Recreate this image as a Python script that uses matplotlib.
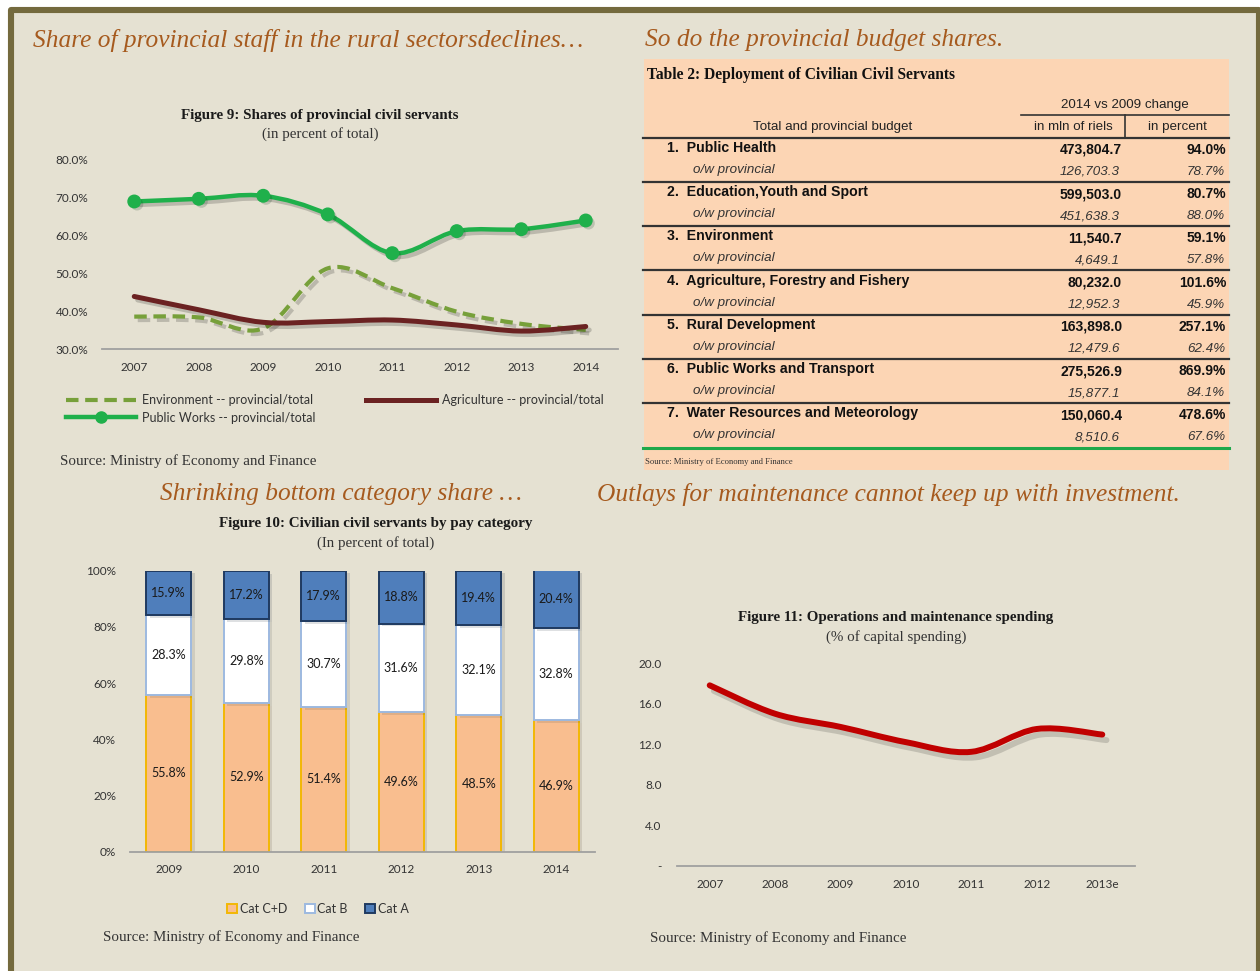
import matplotlib
matplotlib.use("Agg")
import matplotlib.pyplot as plt
import matplotlib.patheffects as pe
from matplotlib.path import Path
from matplotlib.patches import PathPatch, Rectangle, Patch
from matplotlib.lines import Line2D
import numpy as np

# ---- data ----
years9 = ["2007", "2008", "2009", "2010", "2011", "2012", "2013", "2014"]
environment = [38.6, 38.4, 35.5, 51.3, 46.1, 39.9, 36.7, 35.1]
agriculture = [43.9, 40.4, 37.1, 37.3, 37.7, 36.4, 34.8, 36.0]
public_works = [68.9, 69.6, 70.4, 65.5, 55.3, 61.1, 61.6, 63.9]

years10 = ["2009", "2010", "2011", "2012", "2013", "2014"]
cat_cd = [55.8, 52.9, 51.4, 49.6, 48.5, 46.9]
cat_b = [28.3, 29.8, 30.7, 31.6, 32.1, 32.8]
cat_a = [15.9, 17.2, 17.9, 18.8, 19.4, 20.4]

years11 = ["2007", "2008", "2009", "2010", "2011", "2012", "2013e"]
om_spending = [17.8, 15.0, 13.7, 12.2, 11.25, 13.5, 12.95]

table_rows = ["1.  Public Health", "2.  Education,Youth and Sport", "3.  Environment",
              "4.  Agriculture, Forestry and Fishery", "5.  Rural Development",
              "6.  Public Works and Transport", "7.  Water Resources and Meteorology"]
total_mln = ["473,804.7", "599,503.0", "11,540.7", "80,232.0", "163,898.0", "275,526.9", "150,060.4"]
total_pct = ["94.0%", "80.7%", "59.1%", "101.6%", "257.1%", "869.9%", "478.6%"]
prov_mln = ["126,703.3", "451,638.3", "4,649.1", "12,952.3", "12,479.6", "15,877.1", "8,510.6"]
prov_pct = ["78.7%", "88.0%", "57.8%", "45.9%", "62.4%", "84.1%", "67.6%"]

W, H = 1260, 971
BG = "#E5E1D2"
FRAME = "#746A3E"
HEAD = "#A65A1E"
SERIF = "Liberation Serif"
SANS = "Lato"


def ax_px(left, top, right, bottom):
    return fig.add_axes([left / W, 1 - bottom / H, (right - left) / W, (bottom - top) / H])


def smooth_path(xs, ys):
    pts = np.column_stack([xs, ys]).astype(float)
    n = len(pts)
    verts, codes = [pts[0]], [Path.MOVETO]
    for i in range(n - 1):
        p0, p1 = pts[max(i - 1, 0)], pts[i]
        p2, p3 = pts[i + 1], pts[min(i + 2, n - 1)]
        verts += [p1 + (p2 - p0) / 6, p2 - (p3 - p1) / 6, p2]
        codes += [Path.CURVE4] * 3
    return Path(verts, codes)


def style_axis(ax, ypad):
    for sp in ["top", "right", "left"]:
        ax.spines[sp].set_visible(False)
    ax.spines["bottom"].set_color("#A0A0A0")
    ax.spines["bottom"].set_linewidth(1.3)
    ax.tick_params(length=0, labelsize=8.5, labelcolor="#333333")
    ax.tick_params(axis="y", pad=ypad)
    ax.tick_params(axis="x", pad=9)
    for lab in ax.get_xticklabels() + ax.get_yticklabels():
        lab.set_family(SANS)


shadow = [pe.SimpleLineShadow(offset=(2.5, -2.5), alpha=0.18), pe.Normal()]

fig = plt.figure(figsize=(W / 100, H / 100), dpi=100, facecolor="white")

# background layer in pixel coordinates
bg = fig.add_axes([0, 0, 1, 1], zorder=0)
bg.set_xlim(0, W)
bg.set_ylim(H, 0)
bg.axis("off")
bg.add_patch(Rectangle((11, 10), 1248, 1000, facecolor=BG, edgecolor=FRAME,
                       lw=4.4, joinstyle="round"))

# section headings
for x, y, s in [(33, 40, "Share of provincial staff in the rural sectorsdeclines\u2026"),
                (645, 40, "So do the provincial budget shares."),
                (160, 494, "Shrinking bottom category share \u2026"),
                (597, 494, "Outlays for maintenance cannot keep up with investment.")]:
    bg.text(x, y, s, family=SERIF, style="italic", fontsize=18.3, color=HEAD,
            va="center", ha="left")

# figure titles and sources
for cx, y, t, sub in [(320, 115, "Figure 9: Shares of provincial civil servants", "(in percent of total)"),
                      (376, 524, "Figure 10: Civilian civil servants by pay category", "(In percent of total)"),
                      (896, 618, "Figure 11: Operations and maintenance spending", "(% of capital spending)")]:
    bg.text(cx, y, t, family=SERIF, weight="bold", fontsize=10.8, color="#1a1a1a",
            ha="center", va="center")
    bg.text(cx, y + 19, sub, family=SERIF, fontsize=10.8, color="#333333",
            ha="center", va="center")

for x, y in [(60, 461), (103, 937), (650, 938)]:
    bg.text(x, y, "Source: Ministry of Economy and Finance", family=SERIF,
            fontsize=10.8, color="#333333", ha="left", va="center")

# ---- table ----
bg.add_patch(Rectangle((644, 59), 585, 411, facecolor="#FCD5B4", edgecolor="none"))
bg.text(647, 75, "Table 2: Deployment of Civilian Civil Servants", family=SERIF,
        weight="bold", fontsize=11.2, color="#111111", va="center")
bg.text(1125, 105, "2014 vs 2009 change", family="Liberation Sans", fontsize=9.6,
        color="#222222", ha="center", va="center")
bg.plot([1021, 1229], [115, 115], color="#333333", lw=1.2)
bg.plot([1125, 1125], [115, 138], color="#333333", lw=1.2)
bg.text(833, 127, "Total and provincial budget", family="Liberation Sans", fontsize=9.6,
        color="#222222", ha="center", va="center")
bg.text(1073, 127, "in mln of riels", family="Liberation Sans", fontsize=9.6,
        color="#222222", ha="center", va="center")
bg.text(1177, 127, "in percent", family="Liberation Sans", fontsize=9.6,
        color="#222222", ha="center", va="center")
bg.plot([643, 1229], [138, 138], color="#333333", lw=1.6)
for i, name in enumerate(table_rows):
    y0 = 148 + 44.2 * i
    bg.text(667, y0, name, family="Liberation Sans", weight="bold", fontsize=10.2,
            color="#111111", va="center")
    bg.text(1122, y0 + 2, total_mln[i], family="Liberation Sans", weight="bold",
            fontsize=10, color="#111111", va="center", ha="right")
    bg.text(1226, y0 + 2, total_pct[i], family="Liberation Sans", weight="bold",
            fontsize=10, color="#111111", va="center", ha="right")
    bg.text(693, y0 + 22, "o/w provincial", family="Liberation Sans", style="italic",
            fontsize=9.6, color="#333333", va="center")
    bg.text(1120, y0 + 24, prov_mln[i], family="Liberation Sans", style="italic",
            fontsize=9.6, color="#333333", va="center", ha="right")
    bg.text(1225, y0 + 24, prov_pct[i], family="Liberation Sans", style="italic",
            fontsize=9.6, color="#333333", va="center", ha="right")
    if i < len(table_rows) - 1:
        bg.plot([643, 1229], [y0 + 34, y0 + 34], color="#333333", lw=1.6)
bg.plot([643, 1229], [448, 448], color="#1FA84A", lw=2.2)
bg.text(645, 462, "Source: Ministry of Economy and Finance", family=SERIF,
        fontsize=6.2, color="#333333", va="center")

# ---- Figure 9 ----
ax1 = ax_px(102, 159.3, 618, 349.3)
ax1.set_zorder(2)
ax1.patch.set_visible(False)
x9 = np.arange(len(years9))
ax1.add_patch(PathPatch(smooth_path(x9, environment), fill=False, ec="#77A03A", lw=3,
                        ls=(0, (3, 1.6)), path_effects=shadow, zorder=3))
ax1.add_patch(PathPatch(smooth_path(x9, agriculture), fill=False, ec="#6B2222", lw=3.6,
                        capstyle="round", path_effects=shadow, zorder=4))
ax1.add_patch(PathPatch(smooth_path(x9, public_works), fill=False, ec="#1FB04B", lw=3.2,
                        capstyle="round", path_effects=shadow, zorder=5))
ax1.plot(x9, public_works, "o", color="#1FB04B", ms=9, zorder=6,
         path_effects=[pe.SimplePatchShadow(offset=(2, -2), alpha=0.18), pe.Normal()])
ax1.set_xlim(-0.5, 7.5)
ax1.set_ylim(30, 80)
ax1.set_xticks(x9, years9)
ax1.set_yticks([30, 40, 50, 60, 70, 80], ["30.0%", "40.0%", "50.0%", "60.0%", "70.0%", "80.0%"])
style_axis(ax1, 10)

h_env = Line2D([], [], color="#77A03A", lw=3, ls=(0, (3, 1.6)))
h_pw = Line2D([], [], color="#1FB04B", lw=3.2, marker="o", ms=8)
h_agr = Line2D([], [], color="#6B2222", lw=3.6)
fig.legend([h_env, h_pw, h_agr],
           ["Environment -- provincial/total", "Public Works -- provincial/total",
            "Agriculture -- provincial/total"],
           ncol=2, loc="center", bbox_to_anchor=(335 / W, 1 - 409 / H), frameon=False,
           handlelength=5.6, handletextpad=0.5, columnspacing=4.0, labelspacing=0.4,
           prop={"family": SANS, "size": 9}, labelcolor="#333333")

# ---- Figure 10 ----
ax2 = ax_px(130, 570.7, 595, 851.7)
ax2.set_zorder(2)
ax2.patch.set_visible(False)
x10 = np.arange(len(years10))
bar_fx = [pe.SimplePatchShadow(offset=(2.5, -2), alpha=0.14), pe.Normal()]
b_cd = ax2.bar(x10, cat_cd, 0.58, color="#F9BE8F", edgecolor="#F2B705", lw=1.4,
               path_effects=bar_fx, label="Cat C+D")
b_b = ax2.bar(x10, cat_b, 0.58, bottom=cat_cd, color="white", edgecolor="#9DB9E0", lw=1.4,
              path_effects=bar_fx, label="Cat B")
b_a = ax2.bar(x10, cat_a, 0.58, bottom=np.add(cat_cd, cat_b), color="#4F7EBB",
              edgecolor="#1F3A60", lw=1.4, path_effects=bar_fx, label="Cat A")
for cont, vals in [(b_cd, cat_cd), (b_b, cat_b), (b_a, cat_a)]:
    ax2.bar_label(cont, labels=[f"{v:.1f}%" for v in vals], label_type="center",
                  family=SANS, fontsize=9, color="#1a1a1a")
ax2.set_xlim(-0.5, 5.5)
ax2.set_ylim(0, 100)
ax2.set_xticks(x10, years10)
ax2.set_yticks([0, 20, 40, 60, 80, 100], ["0%", "20%", "40%", "60%", "80%", "100%"])
style_axis(ax2, 10)
leg_h = [Patch(facecolor="#F9BE8F", edgecolor="#F2B705", lw=1.4),
         Patch(facecolor="white", edgecolor="#9DB9E0", lw=1.4),
         Patch(facecolor="#4F7EBB", edgecolor="#1F3A60", lw=1.4)]
fig.legend(leg_h, ["Cat C+D", "Cat B", "Cat A"], ncol=3, loc="center",
           bbox_to_anchor=(318 / W, 1 - 909 / H), frameon=False, handlelength=0.8,
           handleheight=0.8, handletextpad=0.2, columnspacing=1.4,
           prop={"family": SANS, "size": 9}, labelcolor="#333333")

# ---- Figure 11 ----
ax3 = ax_px(677, 663, 1135, 866)
ax3.set_zorder(2)
ax3.patch.set_visible(False)
x11 = np.arange(len(years11))
ax3.add_patch(PathPatch(smooth_path(x11, om_spending), fill=False, ec="#C00000", lw=4.3,
                        capstyle="round",
                        path_effects=[pe.SimpleLineShadow(offset=(3, -4), alpha=0.15), pe.Normal()]))
ax3.set_xlim(-0.5, 6.5)
ax3.set_ylim(0, 20)
ax3.set_xticks(x11, years11)
ax3.set_yticks([0, 4, 8, 12, 16, 20], ["-", "4.0", "8.0", "12.0", "16.0", "20.0"])
style_axis(ax3, 11)

fig.savefig("out.png", dpi=100, facecolor="white")
